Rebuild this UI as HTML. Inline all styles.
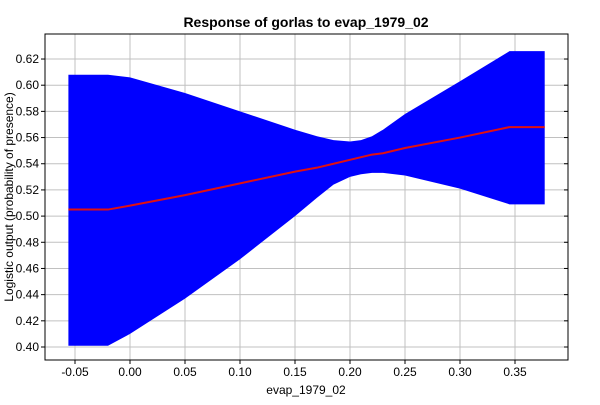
<!DOCTYPE html>
<html><head><meta charset="utf-8"><style>
body{margin:0;background:#fff;font-family:"Liberation Sans",sans-serif}
svg text{font-family:"Liberation Sans",sans-serif}
</style></head><body>
<svg id="chart" width="600" height="400" xmlns="http://www.w3.org/2000/svg">
<rect width="600" height="400" fill="#fff"/>
<text x="306" y="27" text-anchor="middle" font-size="14" font-weight="bold">Response of gorlas to evap_1979_02</text>
<g id="grid"></g>
<g id="series"></g>
<g id="axes"></g>
<text x="306" y="394" text-anchor="middle" font-size="12">evap_1979_02</text>
<text transform="translate(13,197) rotate(-90)" text-anchor="middle" font-size="12">Logistic output (probability of presence)</text>
</svg>
<script>
const xs=[-0.056,-0.02,0.0,0.05,0.10,0.15,0.17,0.185,0.20,0.21,0.22,0.23,0.25,0.30,0.345,0.377];
const upper=[0.608,0.608,0.606,0.594,0.580,0.566,0.561,0.558,0.557,0.558,0.561,0.566,0.578,0.603,0.626,0.626];
const lower=[0.401,0.401,0.410,0.437,0.467,0.500,0.514,0.524,0.530,0.532,0.533,0.533,0.531,0.521,0.509,0.509];
const mean=[0.505,0.505,0.508,0.516,0.525,0.534,0.537,0.540,0.543,0.545,0.547,0.548,0.552,0.560,0.568,0.568];
const xTicks=[-0.05,0,0.05,0.10,0.15,0.20,0.25,0.30,0.35];
const xTickLabels=["-0.05","0.00","0.05","0.10","0.15","0.20","0.25","0.30","0.35"];
const yTicks=[0.40,0.42,0.44,0.46,0.48,0.50,0.52,0.54,0.56,0.58,0.60,0.62];
const yTickLabels=["0.40","0.42","0.44","0.46","0.48","0.50","0.52","0.54","0.56","0.58","0.60","0.62"];
const L=45,R=568,T=34,B=360;
const X=v=>130+v*1100;
const Y=v=>347-(v-0.40)/0.02*26.18;
const NS="http://www.w3.org/2000/svg";
function mk(t,a,p){const e=document.createElementNS(NS,t);for(const k in a)e.setAttribute(k,a[k]);p.appendChild(e);return e;}
const grid=document.getElementById('grid'),ser=document.getElementById('series'),ax=document.getElementById('axes');
xTicks.forEach((v,i)=>{
 const g=mk('line',{x1:X(v),x2:X(v),y1:T,y2:B,stroke:'#c0c0c0'},grid);
 
 
 const t=mk('line',{x1:X(v),x2:X(v),y1:B,y2:B+4,stroke:'#000'},ax);
 
 
 const l=mk('text',{x:X(v),y:B+16,'text-anchor':'middle','font-size':'12'},ax);
 l.textContent=xTickLabels[i];
 
 
});
yTicks.forEach((v,i)=>{
 const g=mk('line',{x1:L,x2:R,y1:Y(v),y2:Y(v),stroke:'#c0c0c0'},grid);
 
 
 const t=mk('line',{x1:L-4,x2:L,y1:Y(v),y2:Y(v),stroke:'#000'},ax);
 
 
 const t2=mk('line',{x1:R-4,x2:R,y1:Y(v),y2:Y(v),stroke:'#000'},ax);
 
 
 const l=mk('text',{x:L-6,y:Y(v)+4,'text-anchor':'end','font-size':'12'},ax);
 l.textContent=yTickLabels[i];
 
 
});
let d='M'+xs.map((x,i)=>X(x)+','+Y(upper[i])).join('L');
for(let i=xs.length-1;i>=0;i--)d+='L'+X(xs[i])+','+Y(lower[i]);
const band=mk('path',{d:d+'Z',fill:'#0000ff'},ser);


const ml=mk('polyline',{points:xs.map((x,i)=>X(x)+','+Y(mean[i])).join(' '),fill:'none',stroke:'#e01010','stroke-width':2},ser);


const fr=mk('rect',{x:L,y:T,width:R-L,height:B-T,fill:'none',stroke:'#000'},ax);


</script>
</body></html>
